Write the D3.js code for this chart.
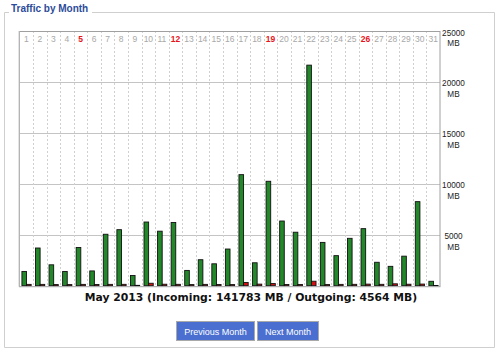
<!DOCTYPE html>
<html>
<head>
<meta charset="utf-8">
<script src="https://cdn.jsdelivr.net/npm/d3@7"></script>
<style>
  html, body { margin: 0; padding: 0; background: #fff; }
  svg { display: block; }
</style>
</head>
<body>
<svg id="chart" width="500" height="351"></svg>
<script>
// ---- data ----
const days = d3.range(1, 32).map(String);
const sundays = ["5", "12", "19", "26"];
const incoming = [1400, 3700, 2050, 1400, 3750, 1450, 5050, 5500, 1000, 6250,
                  5350, 6200, 1500, 2550, 2150, 3600, 10900, 2250, 10250, 6350,
                  5250, 21650, 4250, 2950, 4650, 5600, 2300, 1900, 2900, 8250, 433];
const outgoing = [130, 130, 110, 110, 130, 120, 130, 135, 35, 240,
                  145, 135, 110, 130, 120, 110, 320, 155, 210, 120,
                  120, 440, 110, 130, 135, 155, 135, 185, 145, 160, 25];
const yTicks = [5000, 10000, 15000, 20000, 25000];
const title = "Traffic by Month";
const caption = "May 2013 (Incoming: 141783 MB / Outgoing: 4564 MB)";
const buttons = ["Previous Month", "Next Month"];

// ---- layout ----
const svg = d3.select("#chart");
const plot = { left: 19.5, right: 440, top: 31, bottom: 285.7 };

// fieldset frame
const fs = svg.append("g");
const fsColor = "#cfcfcf";
fs.append("path")
  .attr("d", `M9,12.5 H4.5 V347.5 H494.5 V12.5 H92`)
  .attr("fill", "none").attr("stroke", fsColor).attr("stroke-width", 1);
fs.append("text").attr("x", 11).attr("y", 12)
  .attr("font-family", "Liberation Sans, Arial, sans-serif")
  .attr("font-weight", "bold").attr("font-size", 10)
  .attr("fill", "#2c4c9a").text(title);

// scales
const x = d3.scaleBand().domain(days).range([plot.left, plot.right]).padding(0);
const sub = d3.scaleBand().domain(["in", "out"]).range([0, x.bandwidth()])
  .paddingInner(0).paddingOuter(0.47).align(0.56);
const y = d3.scaleLinear().domain([0, 25000]).range([plot.bottom, plot.top]);

// horizontal grid
const grid = svg.append("g").attr("transform", `translate(${plot.left},0)`)
  .call(d3.axisLeft(y).tickValues(yTicks).tickSize(-(plot.right - plot.left)).tickFormat(""));
grid.select(".domain").remove();
grid.selectAll("line").attr("stroke", "#c4c4c4").attr("shape-rendering", "crispEdges");

// vertical dashed separators
svg.append("g").selectAll("line").data(days.slice(1)).join("line")
  .attr("x1", d => Math.round(x(d)) + 0.5).attr("x2", d => Math.round(x(d)) + 0.5)
  .attr("y1", plot.top).attr("y2", plot.bottom)
  .attr("stroke", "#d0d0d0").attr("stroke-dasharray", "2,2");

// day labels
svg.append("g").selectAll("text").data(days).join("text")
  .attr("x", d => x(d) + x.bandwidth() / 2)
  .attr("y", 41.5)
  .attr("text-anchor", "middle")
  .attr("font-family", "Liberation Sans, Arial, sans-serif")
  .attr("font-size", 8.5)
  .attr("font-weight", d => sundays.includes(d) ? "bold" : "normal")
  .attr("fill", d => sundays.includes(d) ? "#e8141b" : "#a8a8a8")
  .text(d => d);

// bars
const bars = svg.append("g");
bars.selectAll("rect.in").data(days).join("rect").attr("class", "in")
  .attr("x", (d, i) => x(d) + sub("in"))
  .attr("width", sub.bandwidth())
  .attr("y", (d, i) => y(incoming[i]))
  .attr("height", (d, i) => plot.bottom - y(incoming[i]))
  .attr("fill", "#22882a").attr("stroke", "#111").attr("stroke-width", 0.9);
bars.selectAll("rect.out").data(days).join("rect").attr("class", "out")
  .attr("x", (d, i) => x(d) + sub("out"))
  .attr("width", sub.bandwidth())
  .attr("y", (d, i) => y(outgoing[i]))
  .attr("height", (d, i) => plot.bottom - y(outgoing[i]))
  .attr("fill", "#d40f14").attr("stroke", "#111").attr("stroke-width", 0.9);

// plot frame
svg.append("rect")
  .attr("x", plot.left).attr("y", plot.top + 0.5)
  .attr("width", plot.right - plot.left).attr("height", plot.bottom - plot.top + 0.5)
  .attr("fill", "none").attr("stroke", "#a0a0a0").attr("stroke-width", 1);
svg.append("line").attr("x1", plot.left - 0.5).attr("x2", plot.left - 0.5)
  .attr("y1", plot.top).attr("y2", plot.bottom + 1)
  .attr("stroke", "#c8c8c8");

// y axis labels (right side)
const yAxis = svg.append("g").attr("transform", `translate(${plot.right},0)`)
  .call(d3.axisRight(y).tickValues(yTicks).tickSize(0).tickFormat(""));
yAxis.select(".domain").remove();
yAxis.selectAll(".tick").each(function(d) {
  const t = d3.select(this).append("text")
    .attr("x", 13.5).attr("text-anchor", "middle")
    .attr("font-family", "Liberation Sans, Arial, sans-serif")
    .attr("font-size", 8.2).attr("fill", "#222");
  t.append("tspan").attr("x", 13.5).attr("y", 4).text(d);
  t.append("tspan").attr("x", 13.5).attr("y", 14.5).text("MB");
});

// caption
svg.append("text").attr("x", 251).attr("y", 301)
  .attr("text-anchor", "middle")
  .attr("font-family", "DejaVu Sans, Verdana, sans-serif")
  .attr("font-weight", "bold").attr("font-size", 10.8)
  .attr("fill", "#111").text(caption);

// buttons
const btnX = d3.scaleOrdinal().domain(buttons).range([176.5, 257.5]);
const btnW = d3.scaleOrdinal().domain(buttons).range([78, 61]);
const btn = svg.append("g").selectAll("g").data(buttons).join("g")
  .attr("transform", d => `translate(${btnX(d)},321.5)`);
btn.append("rect").attr("width", d => btnW(d)).attr("height", 19)
  .attr("fill", "#4a6fd0").attr("stroke", "#a9a9a9");
btn.append("text").attr("x", d => btnW(d) / 2).attr("y", 13)
  .attr("text-anchor", "middle")
  .attr("font-family", "Liberation Sans, Arial, sans-serif")
  .attr("font-size", 9).attr("fill", "#fff").text(d => d);
</script>
</body>
</html>
